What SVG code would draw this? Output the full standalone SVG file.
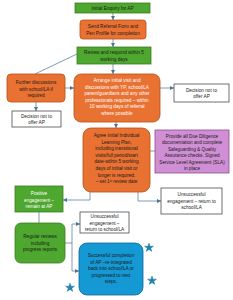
<svg xmlns="http://www.w3.org/2000/svg" width="233" height="300" viewBox="0 0 233 300">
<style>
text{font-family:"Liberation Sans",Arial,sans-serif;font-size:4.7px;text-anchor:middle;fill:#1a1a1a}
.w{fill:#ffffff}
.g{fill:#4ea72e;stroke:#3a7d22;stroke-width:0.8}
.o{fill:#e97132;stroke:#b5521b;stroke-width:0.8}
.p{fill:#d08fd4;stroke:#8e4a92;stroke-width:0.8}
.b{fill:#1599d5;stroke:#0d6790;stroke-width:0.8}
.wb{fill:#ffffff;stroke:#333333;stroke-width:0.7}
.c{fill:none;stroke:#4a7394;stroke-width:0.7}
.star{fill:#1d86b3;stroke:#156a8e;stroke-width:0.4}
</style>
<defs>
<marker id="a" viewBox="0 0 6 6" refX="6" refY="3" markerWidth="4" markerHeight="4" orient="auto" markerUnits="userSpaceOnUse">
<path d="M0,0 L6,3 L0,6 z" fill="#4a7394"/>
</marker>
</defs>
<g id="connectors">
<path class="c" d="M113,13 V20" marker-end="url(#a)"/>
<path class="c" d="M113,39 V47" marker-end="url(#a)"/>
<path class="c" d="M113,64 V74" marker-end="url(#a)"/>
<path class="c" d="M77,54 L35,74"/>
<path class="c" d="M65,88 H74" marker-end="url(#a)"/>
<path class="c" d="M160,88 H174" marker-end="url(#a)"/>
<path class="c" d="M36,102 V111" marker-end="url(#a)"/>
<path class="c" d="M116,122 V128" marker-end="url(#a)"/>
<path class="c" d="M150,151 H155"/>
<path class="c" d="M90,192 V200 H63" marker-end="url(#a)"/>
<path class="c" d="M138,192 V201 H161" marker-end="url(#a)"/>
<path class="c" d="M39,212 V223"/>
<path class="c" d="M65,243 H72 M72,224 V271 M72,224 H80" marker-end="url(#a)"/>
<path class="c" d="M72,271 H79" marker-end="url(#a)"/>
</g>
<g id="initial">
<rect class="g" x="75" y="3" width="75" height="10"/>
<text x="112.5" y="10">Initial Enquiry for AP</text>
</g>
<g id="referral">
<rect class="o" x="80" y="20" width="66" height="19" rx="3"/>
<text x="113" y="28">Send Referral Form and</text>
<text x="113" y="34.5">Pen Profile for completion</text>
</g>
<g id="review">
<rect class="g" x="77" y="47" width="74" height="17"/>
<text x="114" y="54">Review and respond within 5</text>
<text x="114" y="60.5">working days</text>
</g>
<g id="further">
<rect class="o" x="7" y="74" width="58" height="28" rx="4"/>
<text x="36" y="84">Further discussions</text>
<text x="36" y="90.5">with school/LA if</text>
<text x="36" y="97">required</text>
</g>
<g id="arrange">
<rect class="o" x="74" y="74" width="86" height="48" rx="7"/>
<text class="w" x="117" y="82">Arrange initial visit and</text>
<text class="w" x="117" y="88.5">discussions with YP, school/LA</text>
<text class="w" x="117" y="95">parent/guardians and any other</text>
<text class="w" x="117" y="101.5">professionals required – within</text>
<text class="w" x="117" y="108">10 working days of referral</text>
<text class="w" x="117" y="114.5">where possible</text>
</g>
<g id="decision-right">
<rect class="wb" x="174" y="84" width="55" height="18"/>
<text x="201.5" y="91.5">Decision not to</text>
<text x="201.5" y="98">offer AP</text>
</g>
<g id="decision-left">
<rect class="wb" x="12" y="111" width="49" height="16"/>
<text x="36.5" y="117.5">Decision not to</text>
<text x="36.5" y="124">offer AP</text>
</g>
<g id="agree">
<rect class="o" x="83" y="128" width="67" height="64" rx="8"/>
<text x="116.5" y="137">Agree initial Individual</text>
<text x="116.5" y="143.6">Learning Plan,</text>
<text x="116.5" y="150.2">including transitional</text>
<text x="116.5" y="156.8">visits/full period/start</text>
<text x="116.5" y="163.4">date-within 5 working</text>
<text x="116.5" y="170">days of initial visit or</text>
<text x="116.5" y="176.6">longer is required.</text>
<text x="116.5" y="183.2">– set 1<tspan font-size="3" dy="-1.5">st</tspan><tspan dy="1.5"> review date</tspan></text>
</g>
<g id="diligence">
<rect class="p" x="155" y="130" width="74" height="43"/>
<text x="192" y="137.5">Provide all Due Diligence</text>
<text x="192" y="144">documentation and complete</text>
<text x="192" y="150.5">Safeguarding &amp; Quality</text>
<text x="192" y="157">Assurance checks. Signed</text>
<text x="192" y="163.5">Service Level Agreement (SLA)</text>
<text x="192" y="170">in place</text>
</g>
<g id="positive">
<rect class="g" x="15" y="186" width="48" height="26"/>
<text class="w" x="39" y="195">Positive</text>
<text class="w" x="39" y="201.5">engagement –</text>
<text class="w" x="39" y="208">remain at AP</text>
</g>
<g id="unsuccessful-right">
<rect class="wb" x="161" y="188" width="61" height="26"/>
<text x="191.5" y="196">Unsuccessful</text>
<text x="191.5" y="202.5">engagement – return to</text>
<text x="191.5" y="209">school/LA</text>
</g>
<g id="regular">
<rect class="g" x="15" y="223" width="50" height="40" rx="6"/>
<text x="40" y="238">Regular reviews</text>
<text x="40" y="244.5">including</text>
<text x="40" y="251">progress reports</text>
</g>
<g id="unsuccessful-mid">
<rect class="wb" x="80" y="212" width="49" height="21"/>
<text x="104.5" y="218">Unsuccessful</text>
<text x="104.5" y="224.5">engagement –</text>
<text x="104.5" y="231">return to school/LA</text>
</g>
<g id="successful">
<rect class="b" x="79" y="243" width="64" height="52" rx="8"/>
<text x="111" y="257">Successful completion</text>
<text x="111" y="263.5">of AP –re-integrated</text>
<text x="111" y="270">back into school/LA or</text>
<text x="111" y="276.5">progressed to next</text>
<text x="111" y="283">steps.</text>
</g>
<g id="stars">
<polygon class="star" points="149,243 150.1,246.2 153.5,246.2 150.8,248.2 151.8,251.4 149,249.4 146.2,251.4 147.2,248.2 144.5,246.2 147.9,246.2"/>
<polygon class="star" points="152,276 153.1,279.2 156.5,279.2 153.8,281.2 154.8,284.4 152,282.4 149.2,284.4 150.2,281.2 147.5,279.2 150.9,279.2"/>
<polygon class="star" points="70,283 71.1,286.2 74.5,286.2 71.8,288.2 72.8,291.4 70,289.4 67.2,291.4 68.2,288.2 65.5,286.2 68.9,286.2"/>
</g>
</svg>
